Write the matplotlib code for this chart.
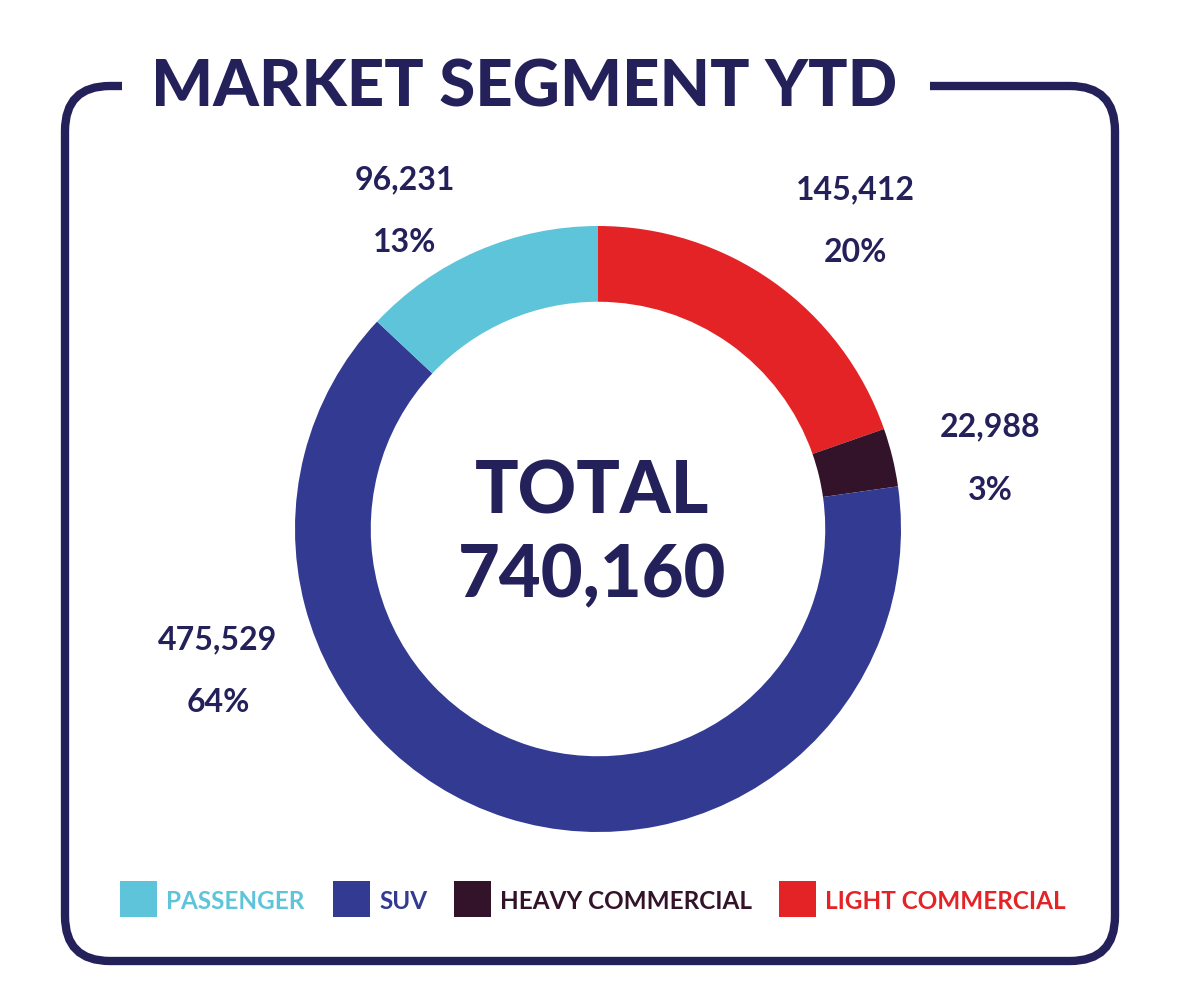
import matplotlib.pyplot as plt
from matplotlib.patches import FancyBboxPatch, Rectangle

# data
segments = ['LIGHT COMMERCIAL', 'HEAVY COMMERCIAL', 'SUV', 'PASSENGER']
units = [145412, 22988, 475529, 96231]
colors = ['#E42326', '#33132A', '#323A92', '#5EC4DA']
legend_order = ['PASSENGER', 'SUV', 'HEAVY COMMERCIAL', 'LIGHT COMMERCIAL']

navy = '#23205A'
W, H = 1182, 1004
plt.rcParams['font.family'] = ['Lato', 'DejaVu Sans']

fig = plt.figure(figsize=(W / 100, H / 100), dpi=100)
ax = fig.add_axes([0, 0, 1, 1])

def Y(y):
    return H - y

# donut
cx, cy, r = 598, Y(530), 303
ax.pie(units, colors=colors, startangle=90, counterclock=False,
       center=(cx, cy), radius=r,
       wedgeprops=dict(width=r * 0.25, edgecolor='none'))
ax.set_xlim(0, W)
ax.set_ylim(0, H)
ax.set_aspect('auto')
ax.axis('off')

total = sum(units)
ax.text(592, Y(493), 'TOTAL', ha='center', va='center', fontsize=52,
        fontweight='black', color=navy)
ax.text(592, Y(577), f'{total:,}', ha='center', va='center', fontsize=52,
        fontweight='black', color=navy)

# value labels
label_pos = [(855, 190), (990, 427), (218, 640), (405, 180)]
for (lx, ly), v in zip(label_pos, units):
    ax.text(lx, Y(ly), f'{v:,}', ha='center', va='center', fontsize=23,
            fontweight='bold', color=navy)
    ax.text(lx, Y(ly + 63), f'{v / total:.0%}', ha='center', va='center',
            fontsize=23, fontweight='bold', color=navy)

# frame with gap for title
frame = FancyBboxPatch((65, Y(962)), 1050, 875,
                       boxstyle='round,pad=0,rounding_size=45',
                       fill=False, edgecolor=navy, linewidth=6)
ax.add_patch(frame)
ax.add_patch(Rectangle((122, Y(100)), 808, 30, facecolor='white',
                       edgecolor='none', zorder=3))
ax.text(524, Y(88), 'MARKET SEGMENT YTD', ha='center', va='center',
        fontsize=47, fontweight='black', color=navy, zorder=4)

# legend
leg_x = [120, 333, 454, 779]
col_of = dict(zip(segments, colors))
for x0, name in zip(leg_x, legend_order):
    c = col_of[name]
    ax.add_patch(Rectangle((x0, Y(918)), 37, 36, facecolor=c, edgecolor='none'))
    ax.text(x0 + 46, Y(902), name, ha='left', va='center', fontsize=17.5,
            fontweight='bold', color=c)

fig.savefig('out.png', dpi=100)
